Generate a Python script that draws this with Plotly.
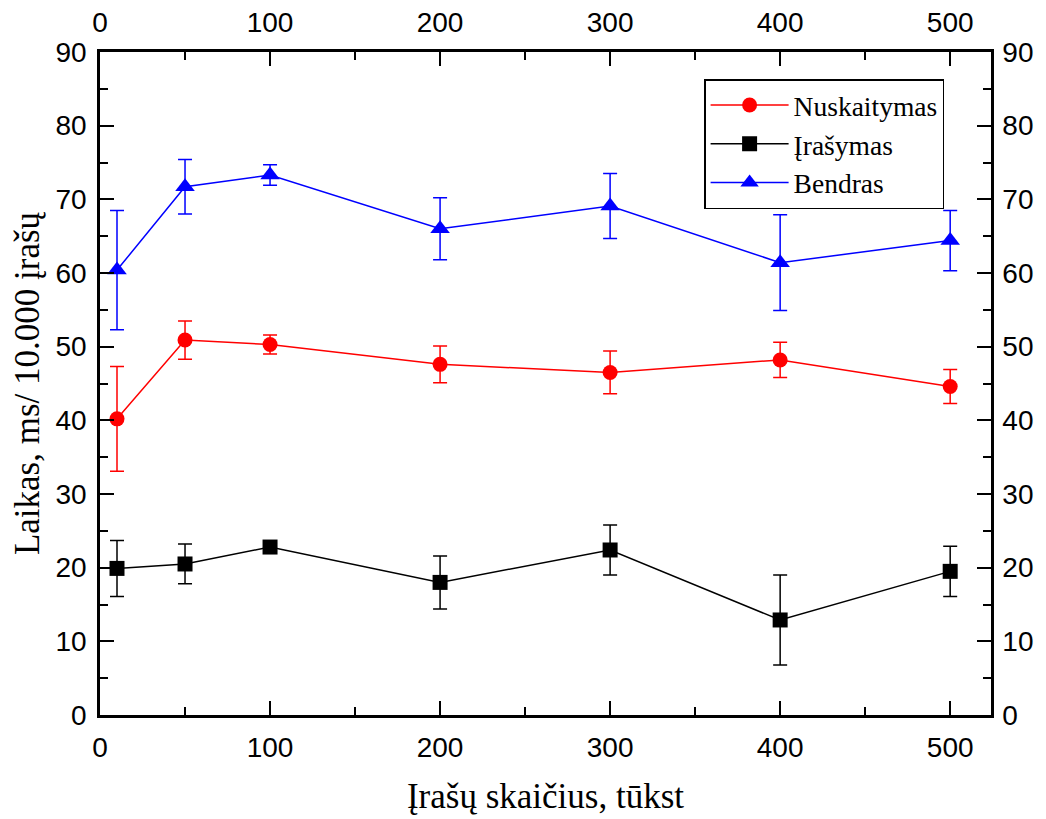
import plotly.graph_objects as go

x_vals = [10, 50, 100, 200, 300, 400, 500]

nusk_y = [40.2, 50.9, 50.3, 47.6, 46.5, 48.2, 44.6]
nusk_err = [7.1, 2.6, 1.3, 2.5, 2.9, 2.4, 2.3]

iras_y = [19.9, 20.5, 22.8, 18.0, 22.4, 12.9, 19.5]
iras_err = [3.8, 2.7, 0.5, 3.6, 3.4, 6.1, 3.4]

bend_y = [60.4, 71.7, 73.3, 66.0, 69.1, 61.4, 64.4]
bend_err = [8.1, 3.7, 1.4, 4.2, 4.4, 6.5, 4.1]

x_range = [0, 524]
y_range = [0, 90]
x_ticks = [0, 100, 200, 300, 400, 500]
y_ticks = [0, 10, 20, 30, 40, 50, 60, 70, 80, 90]

series = [
    ("Nuskaitymas", nusk_y, nusk_err, "#FF0000", "circle", 15),
    ("Įrašymas", iras_y, iras_err, "#000000", "square", 15),
    ("Bendras", bend_y, bend_err, "#0000FF", "triangle-up", 17),
]

fig = go.Figure()
for name, ys, errs, col, sym, sz in series:
    fig.add_trace(go.Scatter(
        x=x_vals, y=ys, name=name, mode="lines+markers",
        line=dict(color=col, width=1.5),
        marker=dict(color=col, symbol=sym, size=sz, line=dict(width=0)),
        error_y=dict(type="data", array=errs, visible=True, color=col,
                     thickness=1.5, width=7),
    ))

# invisible trace to anchor mirrored top/right axes
fig.add_trace(go.Scatter(x=x_vals, y=bend_y, xaxis="x2", yaxis="y2",
                         mode="markers", marker=dict(opacity=0),
                         showlegend=False, hoverinfo="skip"))

tick_font = dict(family="Arial, Liberation Sans", size=28, color="black")
common_x = dict(range=x_range, tickvals=x_ticks, ticks="inside", ticklen=14,
                tickwidth=2, tickcolor="black", showline=True, linewidth=2.5,
                linecolor="black", showgrid=False, zeroline=False,
                tickfont=tick_font, automargin=False, ticklabelstandoff=6,
                minor=dict(dtick=50, tick0=0, ticks="inside", ticklen=8,
                           tickwidth=2, tickcolor="black", showgrid=False))
common_y = dict(range=y_range, tickvals=y_ticks, ticks="inside", ticklen=14,
                tickwidth=2, tickcolor="black", showline=True, linewidth=2.5,
                linecolor="black", showgrid=False, zeroline=False,
                tickfont=tick_font, automargin=False,
                minor=dict(dtick=5, tick0=0, ticks="inside", ticklen=8,
                           tickwidth=2, tickcolor="black", showgrid=False))

title_font = dict(family="Times New Roman, Liberation Serif", size=35, color="black")

fig.update_layout(
    width=1046, height=819,
    margin=dict(l=92, r=63, t=44, b=112),
    paper_bgcolor="white", plot_bgcolor="white",
    xaxis=dict(**common_x, title=dict(text="Įrašų skaičius, tūkst", font=title_font, standoff=22)),
    yaxis=dict(**common_y, ticklabelstandoff=5,
               title=dict(text="Laikas, ms/ 10.000 įrašų", font=title_font, standoff=6)),
    xaxis2=dict(**common_x, overlaying="x", side="top", anchor="y"),
    yaxis2=dict(**common_y, ticklabelstandoff=3, overlaying="y", side="right", anchor="x"),
    legend=dict(x=0.678, y=0.959, xanchor="left", yanchor="top",
                bgcolor="white", bordercolor="black", borderwidth=1.5,
                font=dict(family="Times New Roman, Liberation Serif", size=27.5, color="black"),
                tracegroupgap=0, itemwidth=78),
    showlegend=True,
)

fig.write_html("out.html")
